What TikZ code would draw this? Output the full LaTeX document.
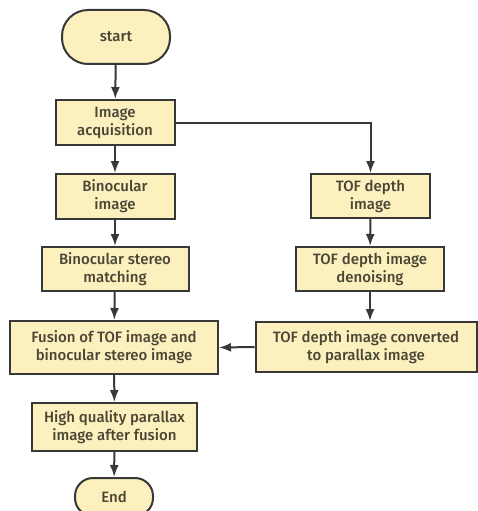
\documentclass[tikz,border=0pt]{standalone}
\usepackage{fontspec}
\setmainfont{Fira Sans Medium}
\usepackage{tikz}
\usetikzlibrary{arrows,arrows.meta}
\definecolor{boxfill}{HTML}{FBF0BE}
\definecolor{boxline}{HTML}{383838}
\definecolor{boxtext}{HTML}{4A4535}

\begin{document}
\begin{tikzpicture}[x=1pt,y=-1pt,
	stepbox/.style={draw=boxline,fill=boxfill,line width=2pt,rectangle,
		align=center,inner sep=0pt,text=boxtext,
		font=\fontsize{15}{18}\selectfont},
	termbox/.style={stepbox,rounded corners=26pt},
	link/.style={-{Latex[length=12pt,width=9pt]},draw=boxline,line width=2pt}]
			\useasboundingbox[fill=white](0,0) rectangle (478,511);
			% left column
			\node[termbox,minimum width=108pt,minimum height=54pt](start) at (116,37){start};
			\node[stepbox,minimum width=119pt,minimum height=45pt](acq) at (115,122.5){Image\\acquisition};
			\node[stepbox,minimum width=119pt,minimum height=45pt](bino) at (115,196.5){Binocular\\image};
			\node[stepbox,minimum width=147pt,minimum height=44pt](match) at (115,269){Binocular stereo\\matching};
			\node[stepbox,minimum width=208pt,minimum height=53pt](fusion) at (114,347.5){Fusion of TOF image and\\binocular stereo image};
			\node[stepbox,minimum width=165pt,minimum height=48pt](hq) at (114.5,427){High quality parallax\\image after fusion};
			\node[termbox,rounded corners=18pt,minimum width=78pt,minimum height=38pt](end) at (114,497){End};
			% right column
			\node[stepbox,minimum width=119pt,minimum height=44pt](tof) at (370.5,196){TOF depth\\image};
			\node[stepbox,minimum width=148pt,minimum height=44pt](den) at (370,269){TOF depth image\\denoising};
			\node[stepbox,minimum width=221pt,minimum height=50pt](conv) at (366,347){TOF depth image converted\\to parallax image};
			% connectors
			\draw[link](start)--(acq);
			\draw[link](acq)--(bino);
			\draw[link](bino)--(match);
			\draw[link](match)--(fusion);
			\draw[link](fusion)--(hq);
			\draw[link](hq)--(end);
			\draw[link](acq.east)-|(tof.north);
			\draw[link](tof)--(den);
			\draw[link](den.south)--(den.south|-conv.north);
			\draw[link](conv.west)--(fusion.east);
\end{tikzpicture}
\end{document}
